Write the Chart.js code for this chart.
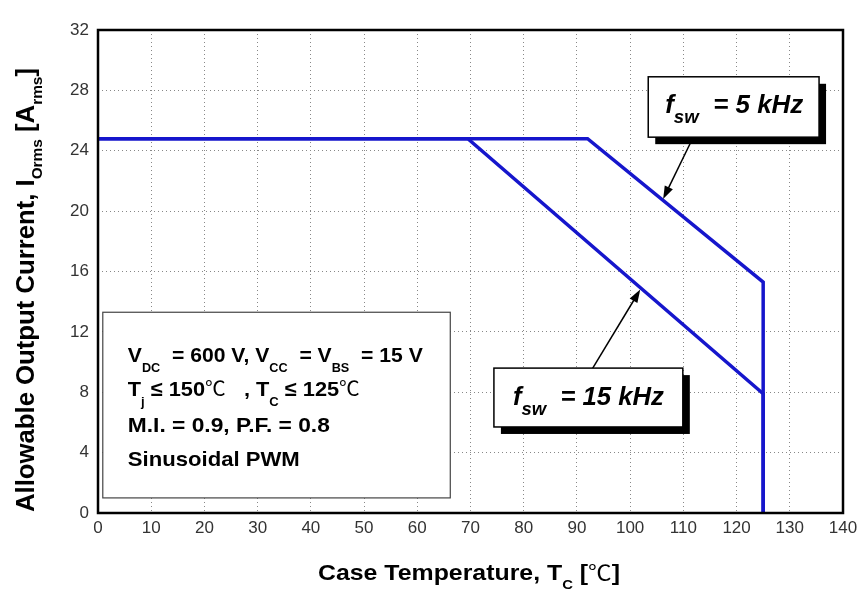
<!DOCTYPE html>
<html><head><meta charset="utf-8">
<script src="https://cdn.jsdelivr.net/npm/chart.js@4.4.0/dist/chart.umd.min.js"></script>
<style>html,body{margin:0;padding:0;background:#fff;}#wrap{width:857px;height:590px;position:relative;background:#fff;}</style>
</head><body><div id="wrap"><canvas id="c" width="857" height="590"></canvas></div>
<script>
// ---- data ----
const xTicks = [0,10,20,30,40,50,60,70,80,90,100,110,120,130,140];
const yTicks = [0,4,8,12,16,20,24,28,32];
const fsw5Temp    = [0, 92, 125, 125];
const fsw5Current = [24.8, 24.8, 15.3, 0];
const fsw15Temp    = [0, 69.5, 125, 125];
const fsw15Current = [24.8, 24.8, 7.9, 0];

const FAM = '"Liberation Sans", Arial, "Noto Sans", sans-serif';
const CJK = '"Noto Sans CJK SC", "Noto Sans CJK JP", "DejaVu Sans", sans-serif';
const LINE_COLOR = '#1616cc';

// rich text: parts = [[text, kind]] kind: 0 normal, 1 subscript, 2 CJK symbol
function drawRich(ctx, parts, x, y, o) {
  const size = o.size, subSize = size * (o.subScale || 0.6), subOff = o.subOff || size * 0.42;
  const style = o.style || 'bold';
  const fonts = parts.map(p => p[1] === 2 ? `normal ${size * 0.95}px ${CJK}` : `${style} ${p[1] ? subSize : size}px ${FAM}`);
  let w = 0; const ws = [];
  parts.forEach((p, i) => { ctx.font = fonts[i]; const m = ctx.measureText(p[0]).width; ws.push(m); w += m; });
  let sx = 1;
  if (o.target) sx = Math.max(0.85, Math.min(1.15, o.target / w));
  ctx.save();
  ctx.translate(x, y);
  if (o.rotate) ctx.rotate(o.rotate);
  ctx.scale(sx, 1);
  ctx.fillStyle = o.color || '#000';
  ctx.textBaseline = 'alphabetic';
  ctx.textAlign = 'left';
  let cx = 0;
  parts.forEach((p, i) => { ctx.font = fonts[i]; ctx.fillText(p[0], cx, p[1] === 1 ? subOff : 0); cx += ws[i]; });
  ctx.restore();
}

function arrow(ctx, x0, y0, x1, y1) {
  const a = Math.atan2(y1 - y0, x1 - x0), L = 13, W = 4.5;
  ctx.save();
  ctx.strokeStyle = '#000'; ctx.fillStyle = '#000'; ctx.lineWidth = 1.5;
  ctx.beginPath(); ctx.moveTo(x0, y0); ctx.lineTo(x1 - L * 0.8 * Math.cos(a), y1 - L * 0.8 * Math.sin(a)); ctx.stroke();
  ctx.beginPath(); ctx.moveTo(x1, y1);
  ctx.lineTo(x1 - L * Math.cos(a) + W * Math.sin(a), y1 - L * Math.sin(a) - W * Math.cos(a));
  ctx.lineTo(x1 - L * Math.cos(a) - W * Math.sin(a), y1 - L * Math.sin(a) + W * Math.cos(a));
  ctx.closePath(); ctx.fill();
  ctx.restore();
}

function shadowBox(ctx, l, t, r, b, off) {
  ctx.save();
  ctx.fillStyle = '#000';
  ctx.fillRect(l + off, t + off, r - l, b - t);
  ctx.fillStyle = '#fff';
  ctx.fillRect(l, t, r - l, b - t);
  ctx.strokeStyle = '#000'; ctx.lineWidth = 1.5;
  ctx.strokeRect(l, t, r - l, b - t);
  ctx.restore();
}

const decor = {
  id: 'decor',
  afterDatasetsDraw(chart) {
    const ctx = chart.ctx, a = chart.chartArea, xs = chart.scales.x, ys = chart.scales.y;
    const px = v => xs.getPixelForValue(v), py = v => ys.getPixelForValue(v);
    // frame
    ctx.save();
    ctx.strokeStyle = '#000'; ctx.lineWidth = 2.5;
    ctx.strokeRect(a.left, a.top, a.right - a.left, a.bottom - a.top);
    ctx.restore();

    // info box
    const il = px(0.9), ir = px(66.2), it = py(13.3), ib = py(1.0);
    ctx.save();
    ctx.fillStyle = '#fff'; ctx.fillRect(il, it, ir - il, ib - it);
    ctx.strokeStyle = '#444'; ctx.lineWidth = 1.2; ctx.strokeRect(il, it, ir - il, ib - it);
    ctx.restore();
    const tx = il + 25;
    drawRich(ctx, [['V',0],['DC',1],['  = 600 V, V',0],['CC',1],['  = V',0],['BS',1],['  = 15 V',0]], tx, it + 50, {size:21, target:295, subOff:10});
    drawRich(ctx, [['T',0],['j',1],[' \u2264 150',0],['\u2103',2],['   , T',0],['C',1],[' \u2264 125',0],['\u2103',2]], tx, it + 84, {size:21, target:232, subOff:10});
    drawRich(ctx, [['M.I. = 0.9, P.F. = 0.8',0]], tx, it + 120, {size:21, target:202});
    drawRich(ctx, [['Sinusoidal PWM',0]], tx, it + 154, {size:21, target:172});

    // arrows
    arrow(ctx, px(111.3), py(24.5), px(106.2), py(20.8));
    arrow(ctx, px(92.8), py(9.5), px(101.9), py(14.8));

    // fsw boxes
    const b5 = [px(103.4), py(28.9), px(135.5), py(24.9)];
    shadowBox(ctx, b5[0], b5[1], b5[2], b5[3], 7);
    drawRich(ctx, [['f',0],['sw',1],['  = 5 kHz',0]], b5[0] + 17, b5[1] + 36, {size:25, style:'italic bold', subScale:0.72, subOff:10, target:138});
    const b15 = [px(74.4), py(9.6), px(109.9), py(5.7)];
    shadowBox(ctx, b15[0], b15[1], b15[2], b15[3], 7);
    drawRich(ctx, [['f',0],['sw',1],['  = 15 kHz',0]], b15[0] + 19, b15[1] + 37, {size:25, style:'italic bold', subScale:0.72, subOff:10, target:151});

    // axis titles
    drawRich(ctx, [['Case Temperature, T',0],['C',1],[' [',0],['\u2103',2],[']',0]], 318, 580, {size:22, target:302, subOff:9});
    drawRich(ctx, [['Allowable Output Current, I',0],['Orms',1],[' [A',0],['rms',1],[']',0]], 33.5, 512, {size:25, rotate:-Math.PI/2, target:444, subOff:8});
  }
};

new Chart(document.getElementById('c'), {
  type: 'line',
  data: {
    datasets: [
      { label: 'fsw = 5 kHz', data: fsw5Temp.map((t, i) => ({x: t, y: fsw5Current[i]})),
        borderColor: LINE_COLOR, borderWidth: 3.5, pointRadius: 0, tension: 0, fill: false },
      { label: 'fsw = 15 kHz', data: fsw15Temp.map((t, i) => ({x: t, y: fsw15Current[i]})),
        borderColor: LINE_COLOR, borderWidth: 3.5, pointRadius: 0, tension: 0, fill: false }
    ]
  },
  options: {
    responsive: false, animation: false,
    layout: { padding: { top: 30, right: 14, left: 0, bottom: 0 } },
    plugins: { legend: { display: false }, tooltip: { enabled: false } },
    scales: {
      x: {
        type: 'linear', min: 0, max: 140,
        afterBuildTicks: s => { s.ticks = xTicks.map(v => ({value: v})); },
        ticks: { color: '#333', font: { size: 17, family: FAM }, padding: 5, maxRotation: 0, autoSkip: false },
        grid: { color: '#888', lineWidth: 1, drawTicks: false },
        border: { display: false, dash: [1, 3] },
        afterFit: s => { s.height = 77; s.paddingLeft = 0; s.paddingRight = 0; }
      },
      y: {
        type: 'linear', min: 0, max: 32,
        afterBuildTicks: s => { s.ticks = yTicks.map(v => ({value: v})); },
        ticks: { color: '#333', font: { size: 17, family: FAM }, padding: 9, autoSkip: false },
        grid: { color: '#888', lineWidth: 1, drawTicks: false },
        border: { display: false, dash: [1, 3] },
        afterFit: s => { s.width = 98; s.paddingTop = 0; s.paddingBottom = 0; }
      }
    }
  },
  plugins: [decor]
});
</script>
</body></html>
